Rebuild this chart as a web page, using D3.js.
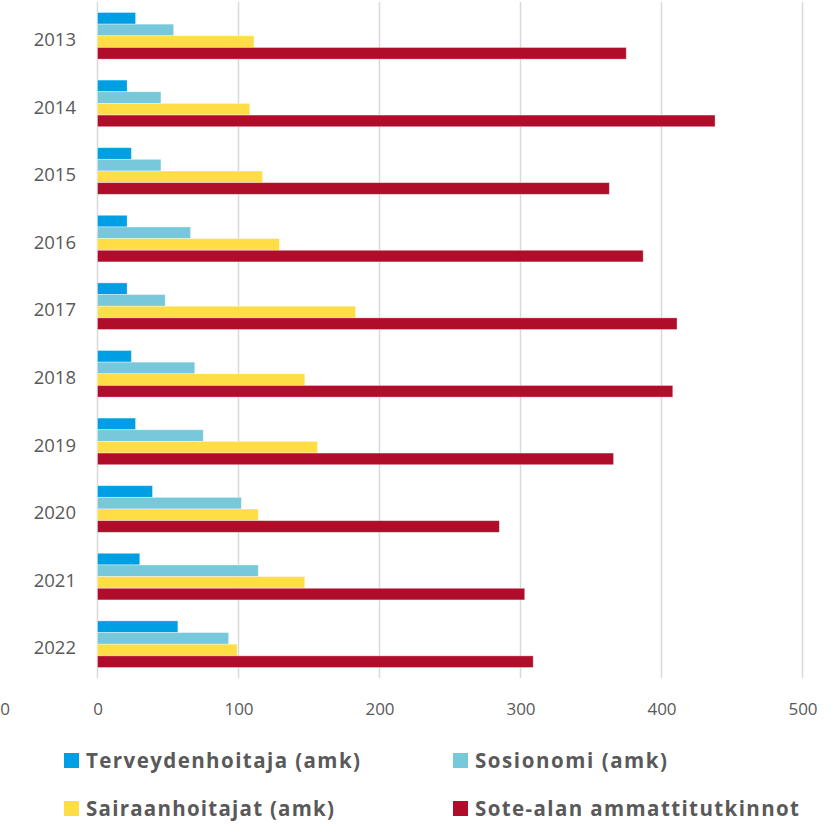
<!DOCTYPE html>
<html>
<head>
<meta charset="utf-8">
<script src="https://cdn.jsdelivr.net/npm/d3@7"></script>
<style>
  html, body { margin: 0; padding: 0; background: #fff; }
  svg { display: block; }
  text { font-family: "Open Sans", "Noto Sans", sans-serif; fill: #595959; }
</style>
</head>
<body>
<svg id="chart" width="833" height="825"></svg>
<script>
const years = ["2013","2014","2015","2016","2017","2018","2019","2020","2021","2022"];
const seriesNames = ["Terveydenhoitaja (amk)","Sosionomi (amk)","Sairaanhoitajat (amk)","Sote-alan ammattitutkinnot"];
const seriesColors = ["#009FE3","#76C8DA","#FFDD44","#AF0D2A"];
const terveydenhoitaja = [27, 21, 24, 21, 21, 24, 27, 39, 30, 57];
const sosionomi        = [54, 45, 45, 66, 48, 69, 75, 102, 114, 93];
const sairaanhoitajat  = [111, 108, 117, 129, 183, 147, 156, 114, 147, 99];
const sote             = [375, 438, 363, 387, 411, 408, 366, 285, 303, 309];
const xTicks = [0, 100, 200, 300, 400, 500];

const seriesValues = [terveydenhoitaja, sosionomi, sairaanhoitajat, sote];

const svg = d3.select("#chart");

const x = d3.scaleLinear().domain([0, 500]).range([97.5, 802.5]);
const y = d3.scaleBand().domain(years).range([2, 678]).paddingInner(0.31).paddingOuter(0.155);
const ySub = d3.scaleBand().domain(d3.range(seriesNames.length)).range([0, y.bandwidth()]);

// gridlines
svg.append("g").selectAll("line").data(xTicks).join("line")
  .attr("x1", d => x(d)).attr("x2", d => x(d))
  .attr("y1", 2).attr("y2", 678)
  .attr("stroke", "#d9d9d9").attr("stroke-width", 1.5);

// bars
const groups = svg.append("g").selectAll("g").data(years).join("g")
  .attr("transform", d => `translate(0,${y(d)})`);

groups.selectAll("rect")
  .data((yr, i) => seriesValues.map((vals, s) => ({ s, v: vals[i] })))
  .join("rect")
  .attr("x", x(0))
  .attr("y", d => ySub(d.s))
  .attr("width", d => x(d.v) - x(0))
  .attr("height", ySub.bandwidth())
  .attr("fill", d => seriesColors[d.s])
  .attr("stroke", "rgba(255,255,255,0.45)")
  .attr("stroke-width", 0.8);

// y axis labels
const yAxis = d3.axisLeft(y).tickSize(0).tickPadding(0);
const yg = svg.append("g").attr("transform", "translate(76,0)").call(yAxis);
yg.select(".domain").remove();
yg.selectAll("text")
  .attr("font-size", 18.5)
  .attr("dy", "0.55em")
  .style("font-family", '"Open Sans", "Noto Sans", sans-serif')
  .attr("fill", "#595959");

// x axis labels
const xAxis = d3.axisBottom(x).tickValues(xTicks).tickSize(0).tickPadding(0).tickFormat(d3.format("d"));
const xg = svg.append("g").attr("transform", "translate(0,700)").call(xAxis);
xg.select(".domain").remove();
xg.selectAll("text")
  .attr("font-size", 17)
  .attr("dy", "0.9em")
  .style("font-family", '"Open Sans", "Noto Sans", sans-serif')
  .attr("fill", "#595959");

// clipped leftmost tick label remnant
svg.append("text").attr("x", 5).attr("y", 700).attr("dy", "0.9em")
  .attr("text-anchor", "middle").attr("font-size", 17).text("0");

// legend
const legendPos = [
  { x: 64, y: 753, w: 274 }, { x: 453, y: 753, w: 192 },
  { x: 64, y: 801, w: 248 }, { x: 453, y: 801, w: 324 }
];
const lg = svg.append("g").selectAll("g").data(seriesNames).join("g")
  .attr("transform", (d, i) => `translate(${legendPos[i].x},${legendPos[i].y})`);
lg.append("rect").attr("width", 15).attr("height", 15)
  .attr("fill", (d, i) => seriesColors[i]);
lg.append("text").attr("x", 22).attr("y", 14.5)
  .attr("font-size", 20.5).attr("font-weight", 700)
  .attr("textLength", (d, i) => legendPos[i].w)
  .attr("lengthAdjust", "spacing")
  .text(d => d);
</script>
</body>
</html>
